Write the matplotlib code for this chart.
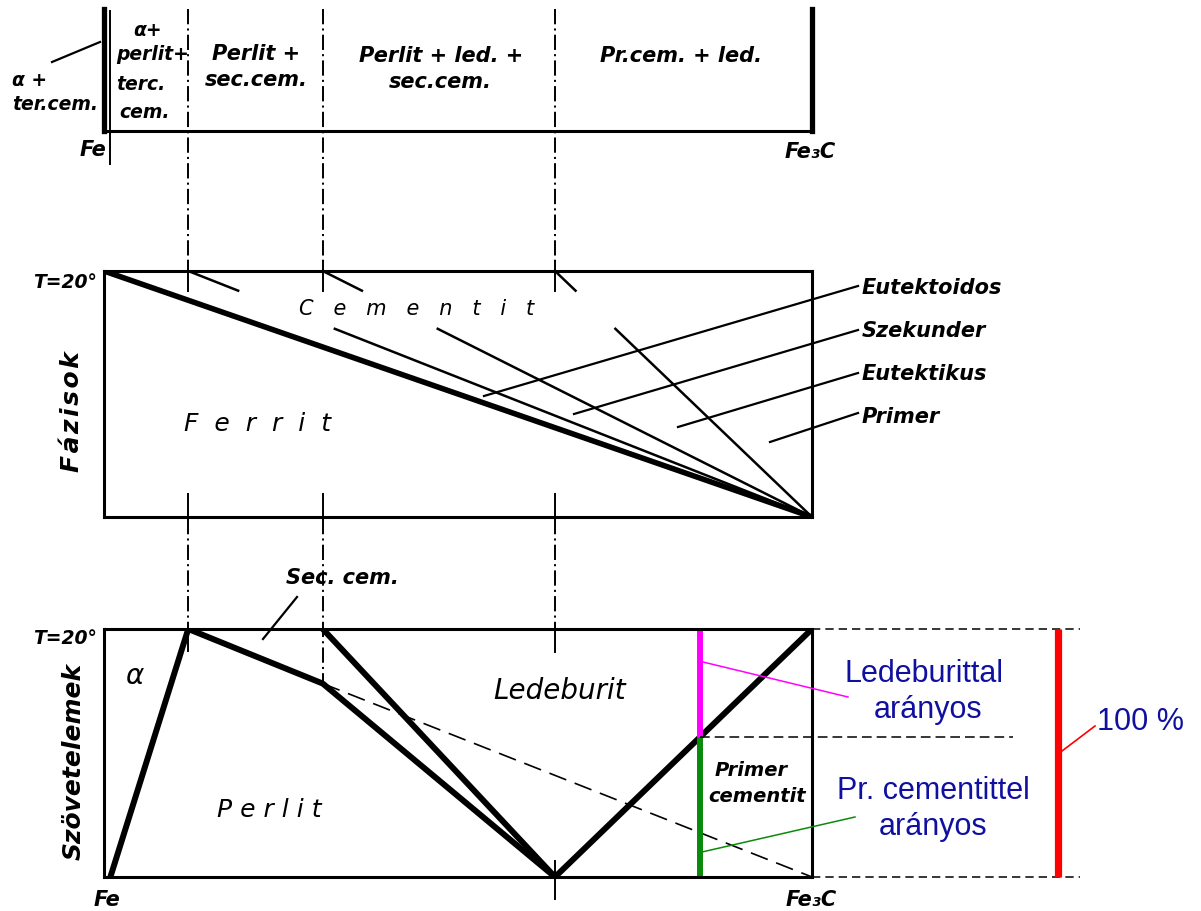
import numpy as np
import matplotlib.pyplot as plt
from matplotlib.transforms import blended_transform_factory

plt.rcParams['font.family'] = ['DejaVu Sans']
plt.rcParams['lines.scale_dashes'] = False

# jellegzetes szén-tartalmak (C %): Fe, P, S (eutektoid), E, C (eutektikum), Fe3C
C_key = [0.0, 0.0218, 0.77, 2.11, 4.3, 6.67]
# a rajz nem méretarányos: ezek a pontok ennyinél vannak a szélesség arányában
U_key = [0.0, 0.009, 0.119, 0.309, 0.637, 1.0]

# Fázisok (20 °C): ferrit hányad a ferrit/cementit határon
ferrit_C = [0.0, 6.67]
ferrit_f = [1.0, 0.0]
# a cementit fajtáit elválasztó vonalak kezdőpontjai (mind Fe3C-nél végződnek)
cem_start_C = [0.77, 2.11, 4.3]

# Szövetelemek (20 °C)
alfa_C = [0.0218, 0.77]
alfa_f = [0.0, 1.0]
perlit_C = [0.77, 2.11, 4.3]
perlit_f = [1.0, 0.78, 0.0]
ledeb_C = [2.11, 4.3, 6.67]
ledeb_f = [1.0, 0.0, 1.0]
seccem_C = [2.11, 6.67]
seccem_f = [0.78, 0.0]

# példa ötvözet az emelőszabályhoz
C_pelda = 5.64
primer_hanyad = 0.565

k0 = (U_key[1] - U_key[0]) / (C_key[1] - C_key[0])
k1 = (U_key[-1] - U_key[-2]) / (C_key[-1] - C_key[-2])


def fwd(c):
    c = np.asarray(c, float)
    u = np.interp(c, C_key, U_key)
    u = np.where(c > C_key[-1], 1.0 + (c - C_key[-1]) * k1, u)
    return np.where(c < 0, c * k0, u)


def inv(u):
    u = np.asarray(u, float)
    c = np.interp(u, U_key, C_key)
    c = np.where(u > 1, C_key[-1] + (u - 1.0) / k1, c)
    return np.where(u < 0, u / k0, c)


W_PX, H_PX = 1201, 912
fig = plt.figure(figsize=(W_PX / 100, H_PX / 100), dpi=100)


def box(top, bottom):
    return [104 / W_PX, 1 - bottom / H_PX, 708 / W_PX, (bottom - top) / H_PX]


ax_top = fig.add_axes(box(10, 132))
ax_mid = fig.add_axes(box(272, 518))
ax_bot = fig.add_axes(box(630, 878))
for ax in (ax_top, ax_mid, ax_bot):
    ax.set_xscale('function', functions=(fwd, inv))
    ax.set_xlim(0, 6.67)
    ax.set_ylim(0, 1)
    ax.set_xticks([])
    ax.set_yticks([])
    ax.patch.set_alpha(0)
    for s in ax.spines.values():
        s.set_linewidth(2.2)

ax_top.spines['top'].set_visible(False)
ax_top.spines['left'].set_linewidth(3.8)
ax_top.spines['right'].set_linewidth(3.8)
ax_top.plot([C_key[1]] * 2, [0.98, -0.27], color='k', lw=1.4, clip_on=False)

K = 'k'


def fy(py):
    return 1 - py / H_PX


def pline(xs, ys, **kw):
    fig.add_artist(plt.Line2D([x / W_PX for x in xs], [fy(y) for y in ys], **kw))


def label(x, y, s, size=15, weight='bold', style='oblique', ha='center', va='center', **kw):
    fig.text(x / W_PX, fy(y), s, fontsize=size, fontweight=weight, fontstyle=style,
             ha=ha, va=va, **kw)


# függőleges pontvonalak a jellegzetes összetételeknél
tr = blended_transform_factory(ax_mid.transData, fig.transFigure)
dashdot = (0, (11, 3, 1.5, 3))


def vseg(c, y0, y1, ls='-'):
    ax_mid.plot([c, c], [fy(y0), fy(y1)], transform=tr, color=K, lw=1.4, ls=ls, clip_on=False)


for c, bot_end in zip(cem_start_C, [630, 683, 632]):
    vseg(c, 10, 262, dashdot)
    vseg(c, 262, 292)
    vseg(c, 495, 520)
    vseg(c, 520, bot_end, dashdot)
vseg(0.77, 630, 652)
vseg(4.3, 632, 653)
vseg(4.3, 862, 900)

# Fázisok
ax_mid.plot(ferrit_C, ferrit_f, color=K, lw=4.0, solid_capstyle='round')
for c0 in cem_start_C:
    u0 = fwd(c0)
    for fa, fb in [(1.0, 0.92), (0.765, 0.0)]:
        ua = u0 + (1 - fa) * (1 - u0)
        ub = u0 + (1 - fb) * (1 - u0)
        ax_mid.plot(inv([ua, ub]), [fa, fb], color=K, lw=1.8)

# Szövetelemek
for xs, ys in [(alfa_C, alfa_f), (perlit_C, perlit_f), (ledeb_C, ledeb_f)]:
    ax_bot.plot(xs, ys, color=K, lw=4.3, solid_joinstyle='round', solid_capstyle='round')
ax_bot.plot(seccem_C, seccem_f, color=K, lw=1.2, ls=(0, (13, 6.5)))

ax_bot.plot([C_pelda] * 2, [1.0, primer_hanyad], color='#ff00ff', lw=4.3, solid_capstyle='butt')
ax_bot.plot([C_pelda] * 2, [primer_hanyad, 0.0], color='#0a8a0a', lw=4.3, solid_capstyle='butt')

ytr = ax_bot.get_yaxis_transform()
for f in (1.0, 0.0):
    ax_bot.plot([1.0, 1.378], [f, f], transform=ytr, color=K, lw=1.1, ls=(0, (6, 3.6)), clip_on=False)
ax_bot.plot([float(fwd(C_pelda)), 1.284], [primer_hanyad] * 2, transform=ytr, color=K,
            lw=1.1, ls=(0, (7, 3.6)), clip_on=False)
ax_bot.plot([1.347, 1.347], [0.0, 1.0], transform=ytr, color='#ff0000', lw=5.2,
            solid_capstyle='butt', clip_on=False)

# mutatóvonalak
pline([52, 100], [63, 43], color=K, lw=1.6)
pline([484, 858], [397, 287], color=K, lw=1.6)
pline([574, 858], [415, 331], color=K, lw=1.6)
pline([678, 858], [428, 374], color=K, lw=1.6)
pline([770, 858], [443, 414], color=K, lw=1.6)
pline([297, 263], [598, 640], color=K, lw=1.6)
pline([703, 848], [663, 698], color='#ff00ff', lw=1.1)
pline([702, 855], [853, 818], color='#0a8a0a', lw=1.1)
pline([1062, 1095], [752, 727], color='#ff0000', lw=1.2)

# felső sáv feliratai
label(12, 80, 'α +', 13.5, ha='left')
label(12, 105, 'ter.cem.', 13.5, ha='left')
label(148, 31, 'α+', 13.5)
label(116, 55, 'perlit+', 13.5, ha='left')
label(116, 84, 'terc.', 13.5, ha='left')
label(119, 113, 'cem.', 13.5, ha='left')
label(256, 54, 'Perlit +')
label(256, 80, 'sec.cem.')
label(441, 56, 'Perlit + led. +')
label(440, 82, 'sec.cem.')
label(681, 56, 'Pr.cem. + led.')
label(106, 150, 'Fe', ha='right')
label(810, 152, 'Fe₃C')

# Fázisok feliratai
label(97, 283, 'T=20°', 13.5, ha='right')
label(72, 412, '\u200a'.join('Fázisok'), 18, rotation=90)
label(417, 309, '   '.join('Cementit'), 15, weight='normal')
label(257, 424, '  '.join('Ferrit'), 18, weight='normal')
label(862, 288, 'Eutektoidos', ha='left')
label(862, 331, 'Szekunder', ha='left')
label(862, 374, 'Eutektikus', ha='left')
label(862, 417, 'Primer', ha='left')

# Szövetelemek feliratai
label(342, 578, 'Sec. cem.')
label(97, 638, 'T=20°', 13.5, ha='right')
label(74, 761, 'Szövetelemek', 18, rotation=90)
label(134, 676, 'α', 20, weight='normal')
label(560, 691, 'Ledeburit', 20, weight='normal')
label(269, 810, ' '.join('Perlit'), 18, weight='normal')
label(751, 771, 'Primer', 14)
label(757, 797, 'cementit', 14)
label(107, 900, 'Fe')
label(811, 900, 'Fe₃C')

blue = dict(fontsize=22, color='#1010a0', family='Liberation Sans', va='baseline')
fig.text(924 / W_PX, fy(682), 'Ledeburittal', ha='center', **blue)
fig.text(928 / W_PX, fy(718), 'arányos', ha='center', **blue)
fig.text(933 / W_PX, fy(799), 'Pr. cementittel', ha='center', **blue)
fig.text(933 / W_PX, fy(835), 'arányos', ha='center', **blue)
fig.text(1097 / W_PX, fy(730), '100 %', ha='left', **blue)

fig.savefig('out.png', dpi=100)
